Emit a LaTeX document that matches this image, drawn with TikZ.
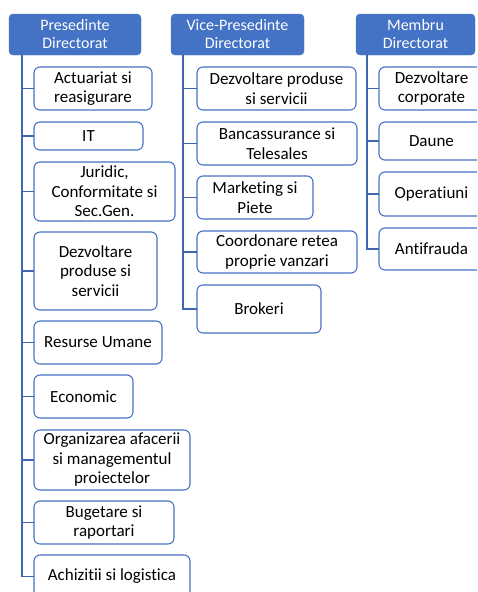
\documentclass[tikz,border=0pt]{standalone}
\usepackage{fontspec}
\setmainfont[Ligatures=NoCommon]{Carlito}
\usepackage{tikz}
\usetikzlibrary{positioning,calc}

\definecolor{hdblue}{HTML}{4472C4}
\definecolor{lnblue}{HTML}{3F66B0}

\begin{document}
\begin{tikzpicture}[
            x=1pt, y=-1pt,
            outer sep=0pt,
            % style for the heads
            head/.style={
                draw=hdblue,
                fill=hdblue,
                rounded corners=4pt,
                inner sep=0pt,
                align=center,
                text=white,
                anchor=north west,
                font=\fontsize{16}{18}\selectfont
            },
            % style for the units
            unit/.style={
                draw=hdblue,
                fill=white,
                line width=1.1pt,
                rounded corners=6pt,
                inner sep=0pt,
                align=center,
                text=black,
                anchor=north west,
                font=\fontsize{17}{19.5}\selectfont
            },
            % connectors
            link/.style={draw=lnblue, line width=1.4pt}
        ]
            \clip (0,0) rectangle (477,592);

            % HEADS
            \node[head, minimum width=132, minimum height=41] (pres) at (9,14) {Presedinte\\Directorat};
            \node[head, minimum width=133, minimum height=41] (vice) at (171,14) {Vice-Presedinte\\Directorat};
            \node[head, minimum width=119, minimum height=41] (memb) at (356,14) {Membru\\Directorat};

            % COLUMN 1
            \node[unit, minimum width=118, minimum height=43] (a1) at (34,67) {Actuariat si\\reasigurare};
            \node[unit, minimum width=109, minimum height=28] (a2) at (34,122) {IT};
            \node[unit, minimum width=141, minimum height=59] (a3) at (34,162) {Juridic,\\Conformitate si\\Sec.Gen.};
            \node[unit, minimum width=123, minimum height=78] (a4) at (34,232) {Dezvoltare\\produse si\\servicii};
            \node[unit, minimum width=128, minimum height=43] (a5) at (34,321) {Resurse Umane};
            \node[unit, minimum width=99, minimum height=43] (a6) at (34,375) {Economic};
            \node[unit, minimum width=156, minimum height=60] (a7) at (34,430) {Organizarea afacerii\\si managementul\\proiectelor};
            \node[unit, minimum width=140, minimum height=43] (a8) at (34,501) {Bugetare si\\raportari};
            \node[unit, minimum width=156, minimum height=43] (a9) at (34,555) {Achizitii si logistica};

            % COLUMN 2
            \node[unit, minimum width=159, minimum height=43] (b1) at (197,67) {Dezvoltare produse\\si servicii};
            \node[unit, minimum width=160, minimum height=43] (b2) at (197,122) {Bancassurance si\\Telesales};
            \node[unit, minimum width=116, minimum height=43] (b3) at (197,176) {Marketing si\\Piete};
            \node[unit, minimum width=160, minimum height=42] (b4) at (197,231) {Coordonare retea\\proprie vanzari};
            \node[unit, minimum width=124, minimum height=48] (b5) at (197,285) {Brokeri};

            % COLUMN 3
            \node[unit, minimum width=105, minimum height=43] (c1) at (379,67) {Dezvoltare\\corporate};
            \node[unit, minimum width=105, minimum height=38] (c2) at (379,122) {Daune};
            \node[unit, minimum width=105, minimum height=44] (c3) at (379,172) {Operatiuni};
            \node[unit, minimum width=105, minimum height=42] (c4) at (379,228) {Antifrauda};

            % CONNECTORS
            \foreach \n in {a1,a2,a3,a4,a5,a6,a7,a8,a9}
                \draw[link] ($(pres.south west)+(13,0)$) |- (\n.west);
            \foreach \n in {b1,b2,b3,b4,b5}
                \draw[link] ($(vice.south west)+(12,0)$) |- (\n.west);
            \foreach \n in {c1,c2,c3,c4}
                \draw[link] ($(memb.south west)+(11,0)$) |- (\n.west);

        \end{tikzpicture}
\end{document}
